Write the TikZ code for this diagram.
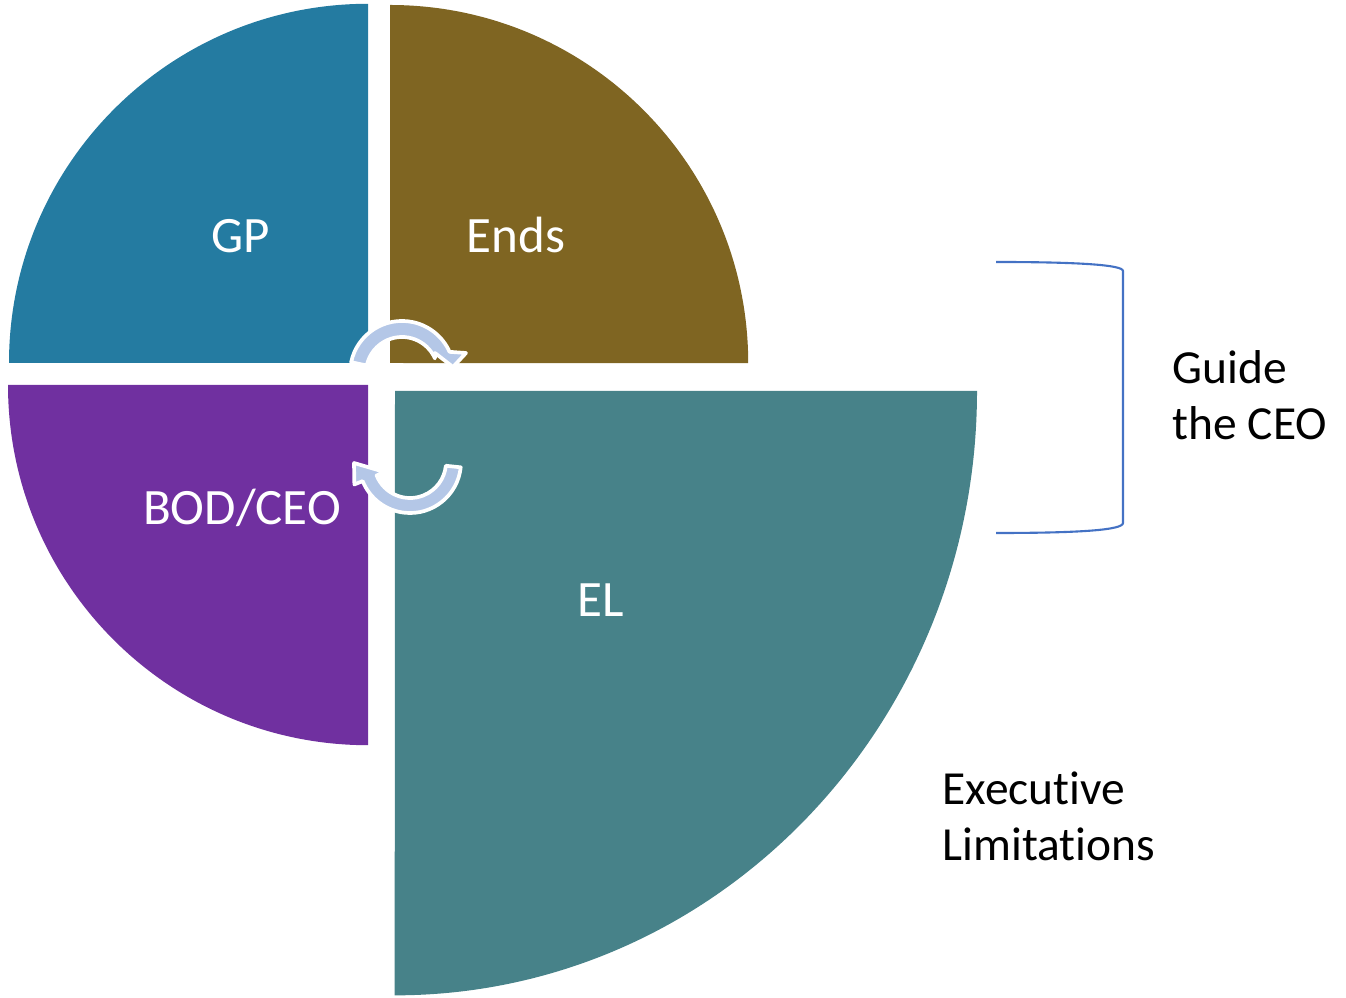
\documentclass[tikz,border=0pt]{standalone}
\usepackage{fontspec}
\setmainfont{Carlito}[Ligatures=NoCommon]
\definecolor{gpblue}{RGB}{36,123,161}
\definecolor{endsbrown}{RGB}{127,101,34}
\definecolor{bodpurple}{RGB}{112,48,160}
\definecolor{elteal}{RGB}{71,130,137}
\definecolor{cyclearrow}{RGB}{180,199,231}
\definecolor{bracketblue}{RGB}{68,114,196}

\begin{document}
\begin{tikzpicture}[x=0.01cm,y=0.01cm,
    inlabel/.style={text=white, inner sep=0pt, anchor=base, font=\fontsize{14.5}{17}\selectfont},
    outlabel/.style={inner sep=0pt, anchor=north west, align=left, font=\fontsize{13.5}{16}\selectfont},
    cyclearr/.style={fill=cyclearrow, draw=white, line width=1.05pt, line join=round}]
  \useasboundingbox (0,0) rectangle (1346,997);

  % the four quarters
  \fill[gpblue] (368,634) -- (9,634) arc[start angle=180, end angle=90, radius=3.59cm] -- cycle;
  \fill[endsbrown] (390,634) -- (390,992) arc[start angle=90, end angle=0, radius=3.58cm] -- cycle;
  \fill[bodpurple] (368,612) -- (8,612) arc[start angle=180, end angle=270, radius=3.60cm] -- cycle;
  \fill[elteal] (395,606) -- (977,606) arc[start angle=0, end angle=-90, x radius=5.82cm, y radius=6.04cm] -- cycle;

  % cycle arrows
  \coordinate (topc) at (402,624);
  \coordinate (botc) at (410,535);
  \draw[cyclearr] ([shift={(168:52)}]topc) arc[start angle=168, end angle=24, radius=0.52cm]
    -- (466,644) -- (453,630) -- (435,644)
    -- ([shift={(24:36)}]topc) arc[start angle=24, end angle=168, radius=0.36cm] -- cycle;
  \draw[cyclearr] ([shift={(-6:51)}]botc) arc[start angle=-6, end angle=-158, radius=0.51cm]
    -- ([shift={(-158:60)}]botc) -- (354,534) -- ([shift={(-158:27)}]botc)
    -- ([shift={(-158:36)}]botc) arc[start angle=-158, end angle=-6, radius=0.36cm] -- cycle;

  \node[inlabel] (gp) at (241,744) {GP};
  \node[inlabel] (ends) at (516,744) {Ends};
  \node[inlabel] (bod) at (242,472) {BOD/CEO};
  \node[inlabel] (el) at (601,380) {EL};

  % bracket
  \coordinate (brtl) at (996,735);
  \coordinate (brtr) at (1123,726);
  \coordinate (brbr) at (1123,474);
  \coordinate (brbl) at (996,464);
  \draw[bracketblue, line width=0.6pt] (brtl) .. controls (1080,735) and (1123,732) .. (brtr)
    -- (brbr) .. controls (1123,467) and (1080,464) .. (brbl);

  \node[outlabel] (guide) at (1172,647) {Guide\\the CEO};
  \node[outlabel] (exec) at (942,226) {Executive\\Limitations};
\end{tikzpicture}
\end{document}
